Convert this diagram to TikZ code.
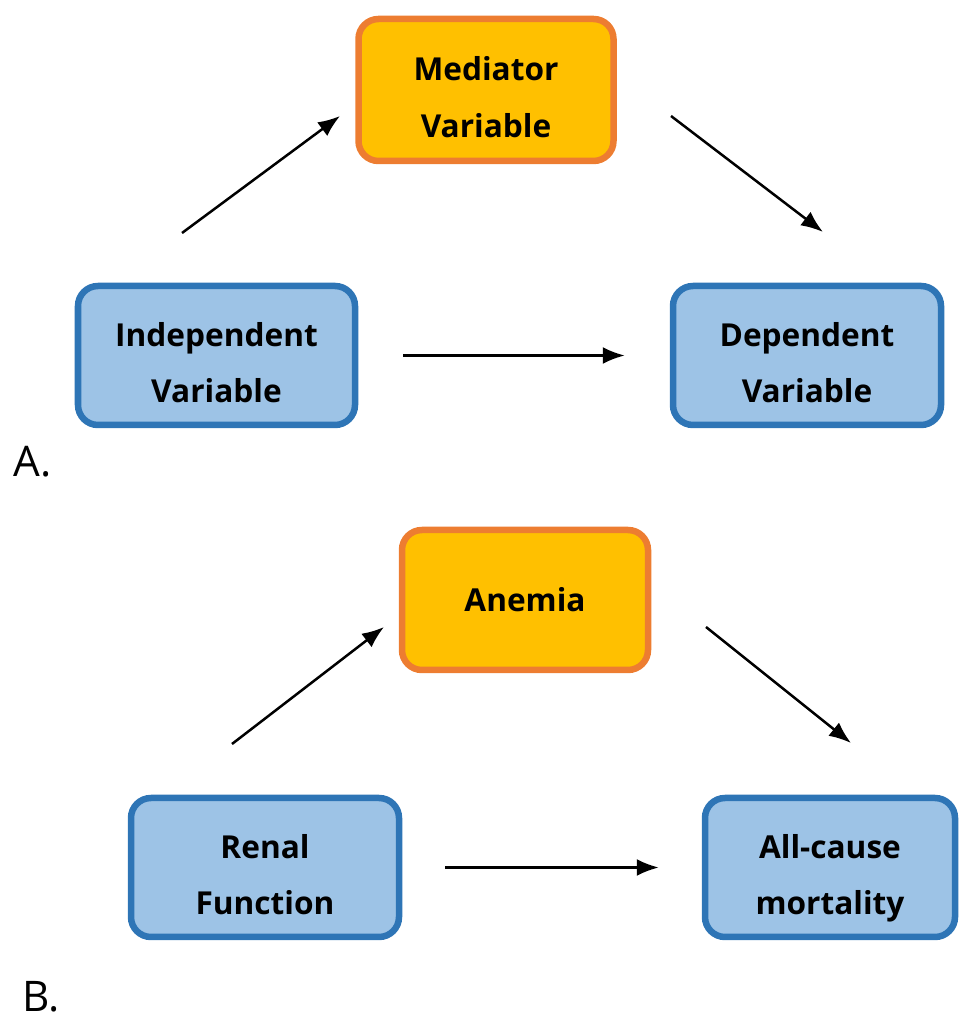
\documentclass[tikz,border=0pt]{standalone}
\usepackage{fontspec}
\setmainfont{Open Sans}
\usetikzlibrary{positioning,arrows.meta}
\definecolor{varblue}{HTML}{9DC3E6}
\definecolor{varblueline}{HTML}{2E75B6}
\definecolor{medorange}{HTML}{FFC000}
\definecolor{medorangeline}{HTML}{ED7D31}

\begin{document}
\begin{tikzpicture}[
    varbox/.style={draw=varblueline, line width=0.065cm, rounded corners=0.2cm, fill=varblue, align=center, font=\fontsize{9}{16.2}\selectfont\bfseries, minimum height=1.39cm},
    medbox/.style={varbox, draw=medorangeline, fill=medorange},
    twolines/.style={text height=29.7pt, text depth=2.7pt},
    panel/.style={font=\fontsize{12}{14}\selectfont, anchor=base west, inner sep=0pt},
    arr/.style={-{Latex[length=2.2mm,width=1.7mm]}, line width=0.025cm}]
  \useasboundingbox (0,0) rectangle (9.59,10.16);
  % A. general model
  \node[medbox, twolines, minimum width=2.55cm, minimum height=1.42cm] (med) at (4.86,9.26) {Mediator\\Variable};
  \node[varbox, twolines, minimum width=2.77cm] (ind) at (2.165,6.605) {Independent\\Variable};
  \node[varbox, twolines, minimum width=2.68cm] (dep) at (8.07,6.605) {Dependent\\Variable};
  \coordinate (ia) at (1.82,7.83);
  \coordinate (ib) at (3.40,9.00);
  \coordinate (ma) at (6.71,9.00);
  \coordinate (mb) at (8.23,7.84);
  \node[panel] (pa) at (0.13,5.39) {A.};
  % B. anemia as mediator
  \node[medbox, minimum width=2.46cm, minimum height=1.40cm] (ane) at (5.25,4.16) {Anemia};
  \node[varbox, twolines, minimum width=2.68cm] (ren) at (2.65,1.485) {Renal\\Function};
  \node[varbox, twolines, minimum width=2.50cm] (mort) at (8.30,1.485) {All-cause\\mortality};
  \coordinate (ra) at (2.32,2.72);
  \coordinate (rb) at (3.84,3.89);
  \coordinate (aa) at (7.06,3.89);
  \coordinate (ab) at (8.51,2.73);
  \node[panel] (pb) at (0.22,0.05) {B.};
  \foreach \a/\b in {ia/ib, ma/mb, ra/rb, aa/ab} { \draw[arr] (\a) -- (\b); }
  \draw[arr, shorten <=0.45cm, shorten >=0.45cm] (ind) -- (dep);
  \draw[arr, shorten <=0.43cm, shorten >=0.43cm] (ren) -- (mort);
\end{tikzpicture}
\end{document}
